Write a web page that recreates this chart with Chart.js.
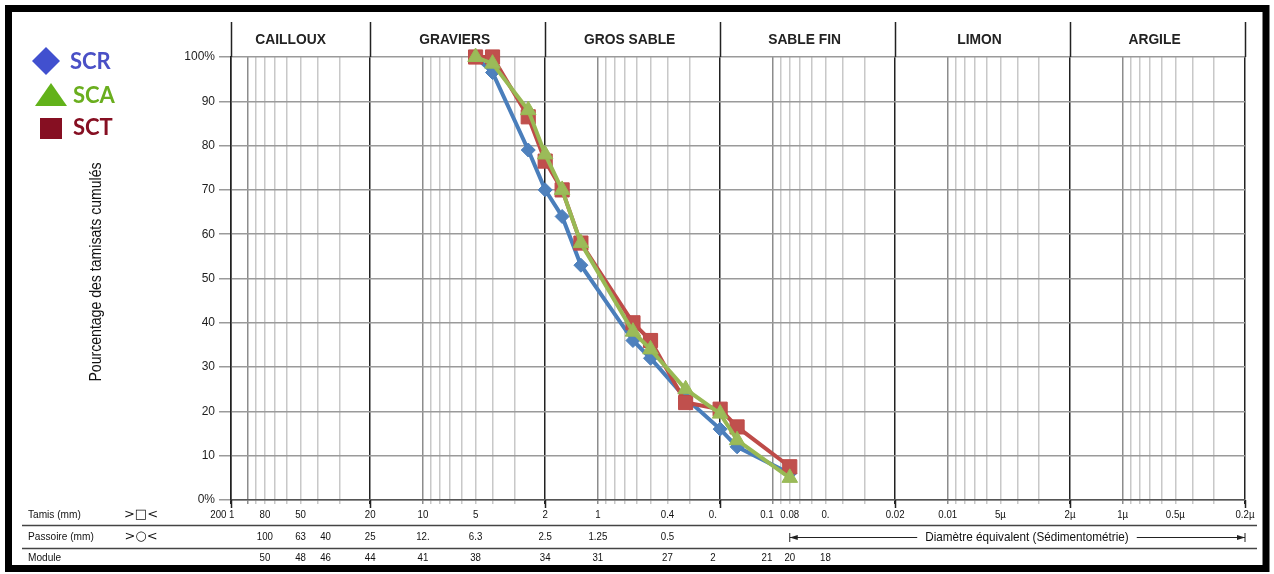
<!DOCTYPE html>
<html>
<head>
<meta charset="utf-8">
<script src="https://cdn.jsdelivr.net/npm/chart.js@4.4.0/dist/chart.umd.min.js"></script>
<style>
  html, body { margin: 0; padding: 0; background: #fff; }
  #wrap { position: relative; width: 1274px; height: 574px; }
</style>
</head>
<body>
<div id="wrap"><canvas id="granulo"></canvas></div>
<script>
// sieve openings (mm) and cumulative passing (%)
const sieves = [5, 4, 2.5, 2, 1.6, 1.25, 0.63, 0.5, 0.315, 0.2, 0.16, 0.08];
const scr = [100, 96.5, 79, 70, 64, 53, 36, 32, 23, 16, 12, 6];
const sca = [100, 98.5, 88, 78, 70, 58, 38, 34, 25, 19.5, 13.5, 5];
const sct = [100, 100, 86.5, 76.5, 70, 58, 40, 36, 22, 20.5, 16.5, 7.5];

const yTicks = [0, 10, 20, 30, 40, 50, 60, 70, 80, 90, 100];

// soil classes between the thick lines (mm)
const zoneBounds = [125, 20, 2, 0.2, 0.02, 0.002, 0.0002];
const zoneNames = ['CAILLOUX', 'GRAVIERS', 'GROS SABLE', 'SABLE FIN', 'LIMON', 'ARGILE'];

// bottom table: one column per position on the size axis (mm)
const columnAt = [140, 80, 50, 36, 20, 10, 5, 2, 1, 0.4, 0.22, 0.108, 0.08, 0.05, 0.02, 0.01, 0.005, 0.002, 0.001, 0.0005, 0.0002];
const tamisRow = ['200 1', '80', '50', '', '20', '10', '5', '2', '1', '0.4', '0.', '0.1', '0.08', '0.', '0.02', '0.01', '5µ', '2µ', '1µ', '0.5µ', '0.2µ'];
const passoireRow = ['', '100', '63', '40', '25', '12.', '6.3', '2.5', '1.25', '0.5', '', '', '', '', '', '', '', '', '', '', ''];
const moduleRow = ['', '50', '48', '46', '44', '41', '38', '34', '31', '27', '2', '21', '20', '18', '', '', '', '', '', '', ''];

const NARROW = "'Liberation Sans Narrow', 'Liberation Sans', Arial, sans-serif";

function pts(vals) {
  return sieves.map((s, i) => ({ x: s, y: vals[i] }));
}

function mantissa(v) {
  const e = Math.floor(Math.log10(v) + 1e-9);
  return Math.round(v / Math.pow(10, e));
}

function isZone(v) {
  return zoneBounds.some(b => Math.abs(Math.log10(b) - Math.log10(v)) < 1e-6);
}

function gridColor(ctx) {
  const v = ctx.tick && ctx.tick.value;
  if (!v) return '#ccc';
  if (isZone(v)) return '#222';
  return mantissa(v) === 1 ? '#8c8c8c' : '#c8c8c8';
}

// narrow text: squeeze horizontally around the anchor
function narrowText(c, txt, x, y, k) {
  c.save();
  c.translate(x, y);
  c.scale(k, 1);
  c.fillText(txt, 0, 0);
  c.restore();
}

const decor = {
  id: 'decor',
  afterDraw(chart) {
    const c = chart.ctx;
    const xs = chart.scales.x;
    const area = chart.chartArea;
    c.save();

    // thick zone lines above and below the plot
    c.strokeStyle = '#222';
    c.lineWidth = 1.5;
    zoneBounds.forEach(b => {
      const x = Math.round(xs.getPixelForValue(b)) + 0.5;
      c.beginPath();
      c.moveTo(x, 22); c.lineTo(x, area.top);
      c.moveTo(x, area.bottom); c.lineTo(x, 508);
      c.stroke();
    });

    // zone names
    c.fillStyle = '#222';
    c.font = "bold 15px " + NARROW;
    c.textAlign = 'center';
    c.textBaseline = 'middle';
    zoneNames.forEach((n, i) => {
      const x1 = xs.getPixelForValue(zoneBounds[i]);
      const x2 = xs.getPixelForValue(zoneBounds[i + 1]);
      narrowText(c, n, (x1 + x2) / 2 - (i === 0 ? 10 : 3), 40, 0.92);
    });

    // legend
    c.textAlign = 'left';
    c.font = "bold 22px Lato, 'Open Sans', sans-serif";
    c.fillStyle = '#4150cf';
    c.beginPath();
    c.moveTo(46, 47); c.lineTo(60, 61); c.lineTo(46, 75); c.lineTo(32, 61); c.closePath();
    c.fill();
    c.fillStyle = '#4a50c6';
    c.fillText('SCR', 70, 62);
    c.fillStyle = '#62b21a';
    c.beginPath();
    c.moveTo(51, 83); c.lineTo(67, 106); c.lineTo(35, 106); c.closePath();
    c.fill();
    c.fillStyle = '#6aae1e';
    c.fillText('SCA', 73, 96);
    c.fillStyle = '#860f22';
    c.fillRect(40, 118, 22, 21);
    c.fillText('SCT', 73, 128);

    // y axis title
    c.save();
    c.translate(97, 272);
    c.rotate(-Math.PI / 2);
    c.fillStyle = '#111';
    c.font = "16px " + NARROW;
    c.textAlign = 'center';
    narrowText(c, 'Pourcentage des tamisats cumulés', 0, 0, 0.88);
    c.restore();

    // table under the plot
    c.strokeStyle = '#444';
    c.lineWidth = 1.5;
    [525.5, 548.5].forEach(y => {
      c.beginPath(); c.moveTo(22, y); c.lineTo(1257, y); c.stroke();
    });
    c.fillStyle = '#111';
    c.font = "11px " + NARROW;
    c.textAlign = 'left';
    narrowText(c, 'Tamis (mm)', 28, 515, 0.92);
    narrowText(c, 'Passoire (mm)', 28, 537, 0.92);
    narrowText(c, 'Module', 28, 558, 0.92);
    c.font = "13px 'DejaVu Sans', sans-serif";
    c.textAlign = 'center';
    c.fillText('>□<', 141, 515);
    c.fillText('>○<', 141, 537);

    c.font = "11px " + NARROW;
    columnAt.forEach((v, i) => {
      const x = xs.getPixelForValue(v);
      if (tamisRow[i]) narrowText(c, tamisRow[i], x, 515, 0.88);
      if (passoireRow[i]) narrowText(c, passoireRow[i], x, 537, 0.88);
      if (moduleRow[i]) narrowText(c, moduleRow[i], x, 558, 0.88);
    });

    // sedimentometry arrow
    const ax1 = xs.getPixelForValue(0.08);
    const ax2 = xs.getPixelForValue(0.0002);
    c.font = "13px " + NARROW;
    const label = 'Diamètre équivalent (Sédimentométrie)';
    const mid = 1027;
    const half = c.measureText(label).width * 0.9 / 2 + 8;
    narrowText(c, label, mid, 537, 0.9);
    c.lineWidth = 1;
    c.strokeStyle = '#222';
    c.beginPath();
    c.moveTo(ax1, 537.5); c.lineTo(mid - half, 537.5);
    c.moveTo(mid + half, 537.5); c.lineTo(ax2, 537.5);
    c.moveTo(ax1, 533); c.lineTo(ax1, 542);
    c.moveTo(ax2, 533); c.lineTo(ax2, 542);
    c.stroke();
    c.fillStyle = '#222';
    c.beginPath();
    c.moveTo(ax1, 537.5); c.lineTo(ax1 + 8, 535); c.lineTo(ax1 + 8, 540); c.closePath();
    c.moveTo(ax2, 537.5); c.lineTo(ax2 - 8, 535); c.lineTo(ax2 - 8, 540); c.closePath();
    c.fill();

    // outer frame
    c.strokeStyle = '#000';
    c.lineWidth = 7;
    c.strokeRect(8.5, 8.5, 1257.5, 560);
    c.restore();
  }
};

new Chart(document.getElementById('granulo').getContext('2d'), {
  type: 'line',
  data: {
    datasets: [
      {
        label: 'SCA',
        data: pts(sca),
        borderColor: '#98b954',
        backgroundColor: '#9bbb59',
        borderWidth: 4,
        pointStyle: 'triangle',
        pointRadius: 9,
        pointBorderWidth: 1,
        tension: 0,
        clip: false
      },
      {
        label: 'SCT',
        data: pts(sct),
        borderColor: '#be4b48',
        backgroundColor: '#c0504d',
        borderWidth: 4,
        pointStyle: 'rect',
        pointRadius: 10,
        pointBorderWidth: 1,
        tension: 0,
        clip: false
      },
      {
        label: 'SCR',
        data: pts(scr),
        borderColor: '#4a7ebb',
        backgroundColor: '#4f81bd',
        borderWidth: 4,
        pointStyle: 'rectRot',
        pointRadius: 7,
        pointBorderWidth: 1,
        tension: 0,
        clip: false
      }
    ]
  },
  options: {
    responsive: true,
    maintainAspectRatio: false,
    animation: false,
    layout: { padding: { top: 57, right: 29, left: 0, bottom: 0 } },
    plugins: { legend: { display: false }, tooltip: { enabled: false } },
    scales: {
      x: {
        type: 'logarithmic',
        reverse: true,
        min: 0.0002,
        max: 125,
        afterBuildTicks(scale) {
          const vals = [];
          for (let k = -4; k <= 2; k++) {
            for (let m = 1; m <= 9; m++) {
              const v = +(m * Math.pow(10, k)).toPrecision(3);
              if (v >= 0.0002 && v < 125) vals.push(v);
            }
          }
          vals.push(125);
          scale.ticks = vals.map(v => ({ value: v }));
        },
        afterFit(scale) { scale.height = 74; },
        ticks: { display: false },
        grid: { color: gridColor, lineWidth: 1.5, drawTicks: true, tickLength: 4 },
        border: { display: true, color: '#555', width: 1.5 }
      },
      y: {
        min: 0,
        max: 100,
        afterBuildTicks(scale) { scale.ticks = yTicks.map(v => ({ value: v })); },
        afterFit(scale) { scale.width = 231; },
        ticks: {
          color: '#1e1e1e',
          padding: 4,
          font: { size: 12, family: NARROW },
          callback: v => (v === 100 ? '100%' : v === 0 ? '0%' : String(v))
        },
        grid: { color: '#9a9a9a', lineWidth: 1.5, drawTicks: true, tickLength: 12 },
        border: { display: true, color: '#222', width: 1.5 }
      }
    }
  },
  plugins: [decor]
});
</script>
</body>
</html>
